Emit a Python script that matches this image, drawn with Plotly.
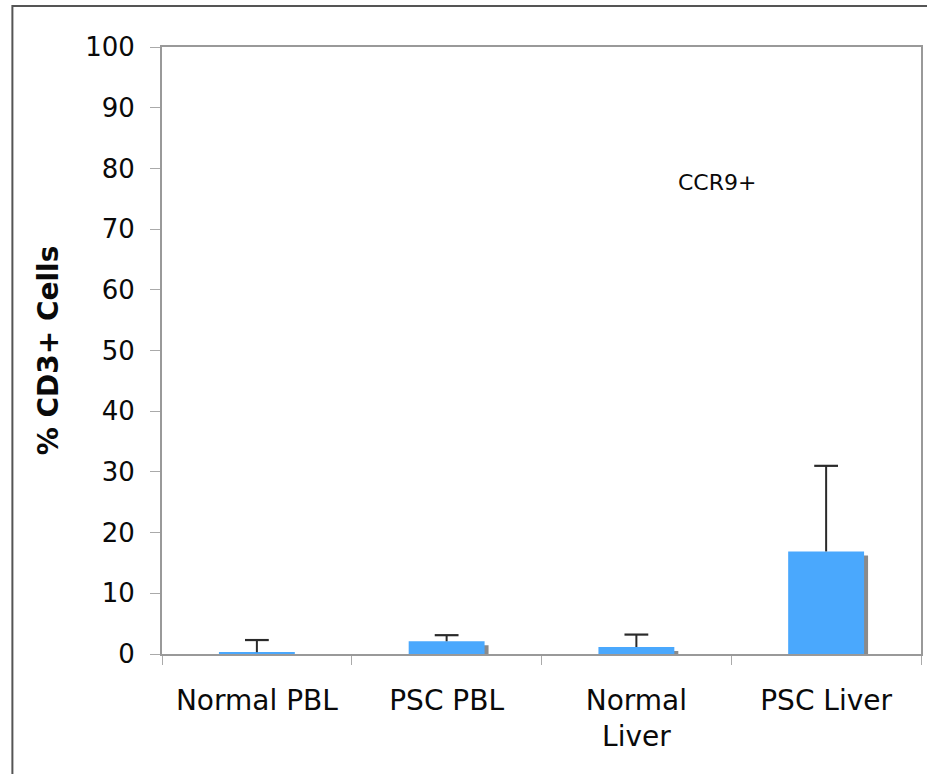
import plotly.graph_objects as go

categories = ["Normal PBL", "PSC PBL", "Normal<br>Liver", "PSC Liver"]
values = [0.3, 2.1, 1.15, 16.9]
errors_up = [2.0, 1.0, 2.05, 14.1]
y_ticks = [0, 10, 20, 30, 40, 50, 60, 70, 80, 90, 100]

W, H = 927, 774
ML, MR, MT, MB = 162, 4, 47, 120
PW = W - ML - MR
PH = H - MT - MB

bar_color = "#4aa8fd"
shadow_color = "#8a8a8a"
err_color = "#2a2a2a"
font_family = "DejaVu Sans"


def px_x(p):
    return (p - ML) / PW


def px_y(p):
    return 1 - (p - MT) / PH


# shadow: shifted right by ~4px and down by ~4px
shift_x = 4.0 / (PW / 4.0)
shift_y = 4.0 / (PH / 100.0)
shadow_vals = [max(v - shift_y, 0) for v in values]
tops = [v + e for v, e in zip(values, errors_up)]

fig = go.Figure()
fig.add_trace(go.Bar(
    x=categories, y=shadow_vals, width=0.4, offset=-0.2 + shift_x,
    marker=dict(color=shadow_color, line=dict(width=0)),
    hoverinfo="skip", showlegend=False,
))
fig.add_trace(go.Bar(
    x=categories, y=values, width=0.4, offset=-0.2,
    marker=dict(color=bar_color, line=dict(width=0)),
    showlegend=False,
))
# upper error bars: stem from bar top, cap only at the top
fig.add_trace(go.Scatter(
    x=categories, y=tops, mode="markers",
    marker=dict(symbol="line-ew", size=17, line=dict(color=err_color, width=2.2)),
    error_y=dict(type="data", symmetric=False, array=[0, 0, 0, 0],
                 arrayminus=errors_up, color=err_color, thickness=2, width=0),
    hoverinfo="skip", showlegend=False,
))

fig.update_layout(
    width=W, height=H,
    margin=dict(l=ML, r=MR, t=MT, b=MB),
    paper_bgcolor="white", plot_bgcolor="white",
    barmode="overlay",
    font=dict(family=font_family, color="#111111", size=26),
    xaxis=dict(
        type="category", tickson="boundaries", ticks="outside",
        ticklen=9, tickcolor="#aaaaaa", tickwidth=1,
        showline=True, linecolor="#999999", linewidth=2, mirror=True,
        showgrid=False, tickfont=dict(size=28, family=font_family, color="#0a0a0a"),
        ticklabelstandoff=20,
        range=[-0.5, 3.5],
    ),
    yaxis=dict(
        range=[0, 100], tickvals=y_ticks, ticks="outside", ticklen=10,
        tickcolor="#aaaaaa", tickwidth=1,
        showline=True, linecolor="#999999", linewidth=2, mirror=True,
        showgrid=False, zeroline=False,
        tickfont=dict(size=26, family=font_family, color="#0a0a0a"),
        ticklabelstandoff=10,
        title=dict(text="<b>% CD3+ Cells</b>", font=dict(size=28, family=font_family, color="#0a0a0a"),
                   standoff=18),
    ),
    annotations=[dict(
        text="CCR9+", x=px_x(718), y=px_y(183), xref="paper", yref="paper",
        showarrow=False, font=dict(size=22, family=font_family, color="#0a0a0a"),
        xanchor="center", yanchor="middle",
    )],
    shapes=[dict(
        type="rect", xref="paper", yref="paper",
        x0=px_x(12), x1=px_x(W + 20),
        y0=px_y(H + 20), y1=px_y(6),
        line=dict(color="#555555", width=2), fillcolor="rgba(0,0,0,0)",
        layer="below",
    )],
)

fig.write_html("out.html")
